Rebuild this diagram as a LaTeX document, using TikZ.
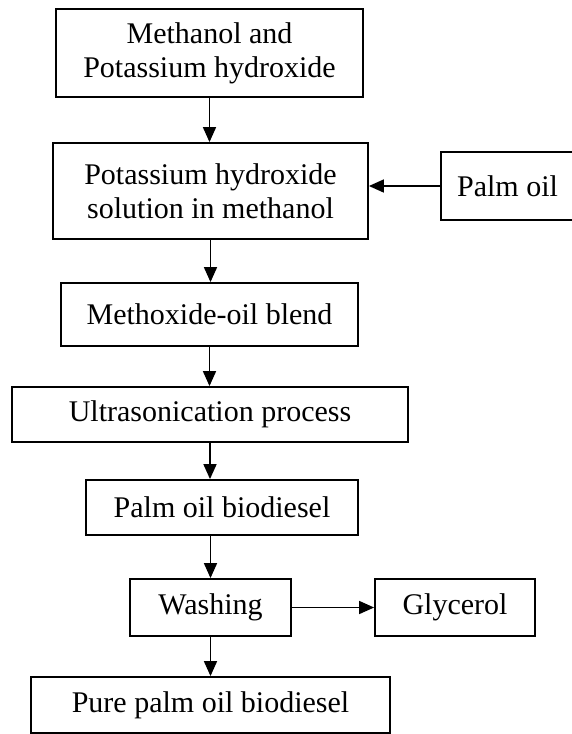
\documentclass[tikz,border=0pt]{standalone}
\usepackage{fontspec}
\setmainfont{Liberation Serif}
\usetikzlibrary{
  calc,arrows.meta
}
\begin{document}
\begin{tikzpicture}[x=1pt,y=-1pt,
  procbox/.style={draw=black,line width=1.8pt,inner sep=0pt,align=center,
    font=\fontsize{30}{34}\selectfont},
  flow/.style={line width=1.6pt,-{Triangle[length=15pt,width=13pt]}}
]
\useasboundingbox (0,0) rectangle (572,734);

\node[procbox,minimum width=307,minimum height=88] (methkoh) at (209.5,53) {Methanol and\\Potassium hydroxide};
\node[procbox,minimum width=315,minimum height=96] (kohsol) at (210.5,191) {Potassium hydroxide\\solution in methanol};
\node[procbox,minimum width=133,minimum height=68] (palm) at (507.5,186) {Palm oil};
\node[procbox,minimum width=297,minimum height=63] (blend) at (209.5,314.5) {Methoxide-oil blend};
\node[procbox,minimum width=396,minimum height=55] (ultra) at (210,414.5) {Ultrasonication process};
\node[procbox,minimum width=272,minimum height=55] (pob) at (222,507.5) {Palm oil biodiesel};
\node[procbox,minimum width=161,minimum height=57] (washing) at (210.5,607.5) {Washing};
\node[procbox,minimum width=160,minimum height=57] (glycerol) at (455,607.5) {Glycerol};
\node[procbox,minimum width=359,minimum height=56] (pure) at (210.5,705) {Pure palm oil biodiesel};

\draw[flow] (methkoh.south) -- (methkoh.south |- kohsol.north);
\draw[flow] (palm.west) -- (palm.west -| kohsol.east);
\draw[flow] (kohsol.south) -- (kohsol.south |- blend.north);
\draw[flow] (blend.south) -- (blend.south |- ultra.north);
\draw[flow] (ultra.south) -- (ultra.south |- pob.north);
\draw[flow] (washing.north |- pob.south) -- (washing.north);
\draw[flow] (washing.east) -- (glycerol.west);
\draw[flow] (washing.south) -- (washing.south |- pure.north);
\end{tikzpicture}
\end{document}
